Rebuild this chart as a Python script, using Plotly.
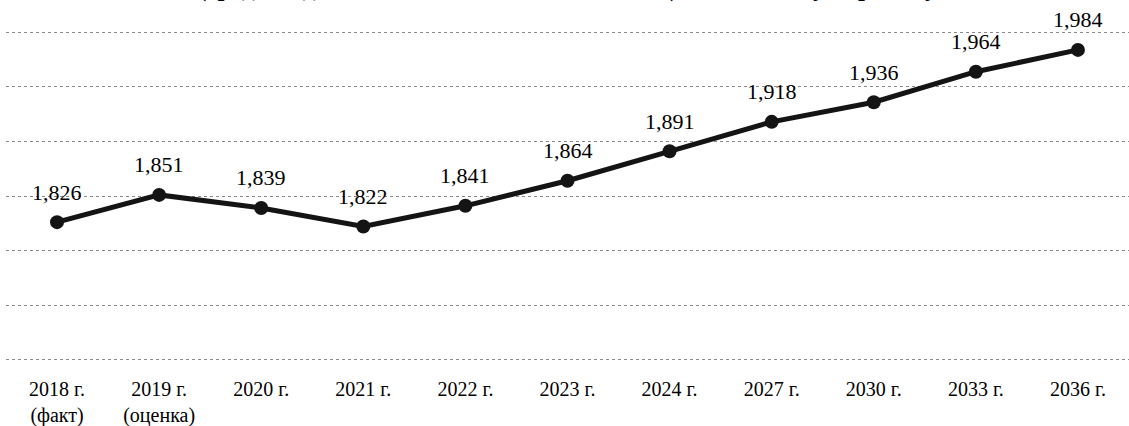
import plotly.graph_objects as go

categories = ["2018 г.<br>(факт)", "2019 г.<br>(оценка)", "2020 г.", "2021 г.", "2022 г.",
              "2023 г.", "2024 г.", "2027 г.", "2030 г.", "2033 г.", "2036 г."]
values = [1.826, 1.851, 1.839, 1.822, 1.841, 1.864, 1.891, 1.918, 1.936, 1.964, 1.984]
title_line = "(среднегодовая численность, млн человек), по базовому варианту"

FONT = "Liberation Serif, Times New Roman, serif"
INK = "#141414"

fig = go.Figure()
fig.add_trace(go.Scatter(
    x=categories, y=values, mode="lines+markers",
    line=dict(color=INK, width=5),
    marker=dict(color=INK, size=14),
    cliponaxis=False, hoverinfo="skip", showlegend=False,
))

for c, v in zip(categories, values):
    fig.add_annotation(x=c, y=v, text=f"{v:.3f}".replace(".", ","),
                       showarrow=False, yshift=30,
                       font=dict(family=FONT, size=22, color="#000"))

fig.add_annotation(x=0.5, xref="paper", y=1, yref="paper", yanchor="bottom",
                   yshift=23, text=title_line, showarrow=False,
                   font=dict(family=FONT, size=25, color="#000", weight="bold"))

fig.update_layout(
    width=1129, height=426, autosize=False,
    margin=dict(l=6, r=0, t=27, b=61),
    paper_bgcolor="white", plot_bgcolor="white",
    font=dict(family=FONT, size=21, color="#000"),
)
fig.update_xaxes(type="category", range=[-0.5, len(categories) - 0.5],
                 showgrid=False, showline=False, zeroline=False,
                 automargin=False,
                 ticks="", tickfont=dict(family=FONT, size=20, color="#000"),
                 ticklabelstandoff=10)
fig.update_yaxes(range=[1.695, 2.005], dtick=0.05, tick0=1.7, showticklabels=False,
                 automargin=False,
                 showgrid=True, gridcolor="#8a8a8a", gridwidth=1, griddash="dot",
                 zeroline=False, showline=False, ticks="")

fig.write_html(
    "out.html",
    config={"responsive": False, "displayModeBar": False},
    default_width="1129px", default_height="426px",
    post_script="document.body.style.margin='0';document.body.style.overflow='hidden';",
)
